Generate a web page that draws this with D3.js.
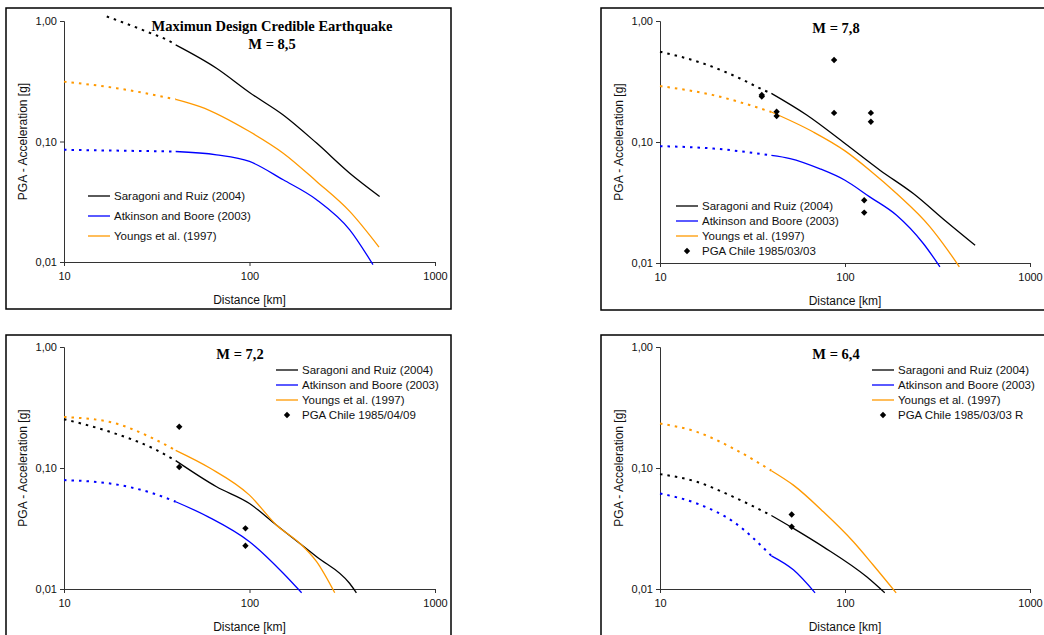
<!DOCTYPE html>
<html>
<head>
<meta charset="utf-8">
<script src="https://cdn.jsdelivr.net/npm/d3@7"></script>
<style>
  body { margin: 0; background: #fff; }
  svg { display: block; }
</style>
</head>
<body>
<div id="chart"></div>
<script>
// ---- data: [distance km, PGA g] ----
// M = 8,5
var sar85 = [[17, 1.09], [27.9, 0.816], [38.8, 0.653], [40, 0.633], [66.4, 0.405], [100, 0.255], [152, 0.166], [230, 0.097], [347, 0.0546], [503, 0.035]];
var atk85 = [[10, 0.0853], [40, 0.0826], [66.4, 0.0776], [100, 0.0683], [152, 0.0481], [230, 0.0329], [347, 0.0185], [463, 0.0095]];
var you85 = [[10, 0.314], [19.2, 0.277], [40, 0.224], [54.1, 0.195], [100, 0.121], [152, 0.080], [230, 0.0466], [347, 0.0263], [499, 0.0133]];

// M = 7,8
var sar78 = [[10, 0.557], [17.1, 0.446], [27.1, 0.335], [37, 0.265], [40, 0.252], [62.1, 0.167], [100, 0.0972], [154.5, 0.0585], [234, 0.0375], [355, 0.0218], [505, 0.014]];
var atk78 = [[10, 0.0924], [19.4, 0.0883], [40, 0.0775], [50.5, 0.073], [73.3, 0.060], [100, 0.0483], [136, 0.0352], [190, 0.0248], [265, 0.0145], [326, 0.0093]];
var you78 = [[10, 0.290], [19.4, 0.244], [40, 0.177], [67.4, 0.121], [100, 0.0845], [136, 0.0585], [190, 0.0375], [288, 0.0199], [355, 0.0131], [415, 0.0093]];
var obs78 = [[35.5, 0.245], [35.5, 0.238], [42.7, 0.178], [42.7, 0.164], [87.3, 0.476], [87.3, 0.174], [138, 0.174], [138, 0.147], [127, 0.033], [127, 0.0261]];

// M = 7,2
var sar72 = [[10, 0.253], [17.7, 0.199], [30.3, 0.145], [40, 0.115], [66.4, 0.070], [100, 0.0509], [140, 0.0337], [230, 0.0185], [347, 0.0111], [377, 0.0093]];
var atk72 = [[10, 0.0794], [17.7, 0.0745], [30.3, 0.0616], [40, 0.0526], [59.9, 0.0395], [100, 0.0246], [152, 0.0135], [191, 0.0093]];
var you72 = [[10, 0.264], [17.7, 0.240], [30.3, 0.175], [40, 0.140], [61.1, 0.100], [100, 0.0597], [140, 0.0337], [187, 0.0238], [230, 0.0168], [288, 0.0093]];
var obs72 = [[41.8, 0.219], [41.8, 0.102], [95.1, 0.0317], [95.1, 0.0228]];

// M = 6,4
var sar64 = [[10, 0.089], [15.8, 0.0769], [24.9, 0.0578], [40, 0.0405], [52.6, 0.0317], [76.4, 0.0223], [131, 0.0126], [164, 0.0093]];
var atk64 = [[10, 0.0616], [15.8, 0.0509], [24.9, 0.036], [40, 0.0188], [52.6, 0.0144], [68.9, 0.0093]];
var you64 = [[10, 0.233], [15.8, 0.199], [24.9, 0.145], [40, 0.095], [52.6, 0.0722], [76.4, 0.0435], [111, 0.0246], [142, 0.0158], [189, 0.0093]];
var obs64 = [[51.5, 0.0413], [51.5, 0.0327]];

var seriesNames = ["Saragoni and Ruiz (2004)", "Atkinson and Boore (2003)", "Youngs et al. (1997)"];
var seriesColors = ["#000000", "#0000ff", "#ff9900"];
var xTicks = [10, 100, 1000];
var yTicks = [1, 0.1, 0.01];
var yTickLabels = ["1,00", "0,10", "0,01"];
var dottedUntil = 40;  // curves drawn dotted below this distance

var panels = [
  { title: ["Maximun Design Credible Earthquake", "M = 8,5"], curves: [sar85, atk85, you85], obs: null, obsName: null,
    frame: [6, 8, 445, 301], x0: 64, x1: 435, yTop: 21, yBot: 262, titleX: 272, titleY: 31,
    leg: { x: 88, y: 196, dy: 20 } },
  { title: ["M = 7,8"], curves: [sar78, atk78, you78], obs: obs78, obsName: "PGA Chile 1985/03/03",
    frame: [601, 8, 500, 302], x0: 660, x1: 1030, yTop: 21, yBot: 263, titleX: 836, titleY: 33,
    leg: { x: 676, y: 206, dy: 15 } },
  { title: ["M = 7,2"], curves: [sar72, atk72, you72], obs: obs72, obsName: "PGA Chile 1985/04/09",
    frame: [6, 335, 445, 400], x0: 64, x1: 435, yTop: 347, yBot: 589, titleX: 240, titleY: 359,
    leg: { x: 276, y: 370, dy: 15 } },
  { title: ["M = 6,4"], curves: [sar64, atk64, you64], obs: obs64, obsName: "PGA Chile 1985/03/03 R",
    frame: [601, 335, 500, 400], x0: 660, x1: 1030, yTop: 347, yBot: 589, titleX: 836, titleY: 359,
    leg: { x: 872, y: 370, dy: 15 } }
];

var svg = d3.select("#chart").append("svg")
  .attr("width", 1044)
  .attr("height", 635)
  .style("font-family", "'Liberation Sans', Arial, sans-serif");

var diamond = d3.symbol().type(d3.symbolDiamond2).size(26);

panels.forEach(function(p) {
  var g = svg.append("g");

  g.append("rect")
    .attr("x", p.frame[0]).attr("y", p.frame[1])
    .attr("width", p.frame[2]).attr("height", p.frame[3])
    .attr("fill", "none").attr("stroke", "#000").attr("stroke-width", 1.5);

  var x = d3.scaleLog().domain([10, 1000]).range([p.x0, p.x1]);
  var y = d3.scaleLog().domain([0.01, 1]).range([p.yBot, p.yTop]);

  // axes
  var xAxis = g.append("g")
    .attr("transform", "translate(0," + p.yBot + ")")
    .call(d3.axisBottom(x).tickValues(xTicks).tickFormat(d3.format("d")).tickSizeOuter(0).tickSize(4).tickPadding(6));
  var yAxis = g.append("g")
    .attr("transform", "translate(" + p.x0 + ",0)")
    .call(d3.axisLeft(y).tickValues(yTicks).tickFormat(function(d, i) { return yTickLabels[i]; }).tickSizeOuter(0).tickSize(4).tickPadding(3));
  [xAxis, yAxis].forEach(function(a) {
    a.select(".domain").attr("stroke", "#333");
    a.selectAll(".tick line").attr("stroke", "#333");
    a.selectAll("text").attr("font-family", "'Liberation Sans', Arial, sans-serif").attr("font-size", 11).attr("fill", "#111");
  });

  g.append("text")
    .attr("x", (p.x0 + p.x1) / 2).attr("y", p.yBot + 42)
    .attr("text-anchor", "middle").attr("font-size", 12).attr("fill", "#111")
    .text("Distance [km]");
  g.append("text")
    .attr("transform", "translate(" + (p.x0 - 37) + "," + ((p.yTop + p.yBot) / 2) + ")rotate(-90)")
    .attr("text-anchor", "middle").attr("font-size", 12).attr("fill", "#111")
    .text("PGA - Acceleration [g]");

  // title
  p.title.forEach(function(t, i) {
    g.append("text")
      .attr("x", p.titleX).attr("y", p.titleY + i * 18)
      .attr("text-anchor", "middle")
      .attr("font-family", "'Liberation Serif', 'Times New Roman', serif")
      .attr("font-weight", "bold").attr("font-size", 14.5)
      .text(t);
  });

  var line = d3.line()
    .curve(d3.curveMonotoneX)
    .x(function(d) { return x(d[0]); })
    .y(function(d) { return y(d[1]); });

  p.curves.forEach(function(c, i) {
    var near = c.filter(function(d) { return d[0] <= dottedUntil; });
    var far = c.filter(function(d) { return d[0] >= dottedUntil; });
    g.append("path").datum(near)
      .attr("d", line).attr("fill", "none")
      .attr("stroke", seriesColors[i]).attr("stroke-width", 2)
      .attr("stroke-dasharray", "2.5,5");
    g.append("path").datum(far)
      .attr("d", line).attr("fill", "none")
      .attr("stroke", seriesColors[i]).attr("stroke-width", 1.3);
  });

  if (p.obs) {
    g.selectAll(".obs").data(p.obs).enter().append("path")
      .attr("d", diamond)
      .attr("transform", function(d) { return "translate(" + x(d[0]) + "," + y(d[1]) + ")"; })
      .attr("fill", "#000");
  }

  // legend
  var names = seriesNames.slice();
  if (p.obsName) names.push(p.obsName);
  names.forEach(function(n, i) {
    var ly = p.leg.y + i * p.leg.dy;
    if (i < 3) {
      g.append("line")
        .attr("x1", p.leg.x).attr("x2", p.leg.x + 22)
        .attr("y1", ly).attr("y2", ly)
        .attr("stroke", seriesColors[i]).attr("stroke-width", 1.3);
    } else {
      g.append("path").attr("d", diamond)
        .attr("transform", "translate(" + (p.leg.x + 11) + "," + ly + ")")
        .attr("fill", "#000");
    }
    g.append("text")
      .attr("x", p.leg.x + 26).attr("y", ly).attr("dy", "0.35em")
      .attr("font-size", 11.5).attr("fill", "#111")
      .text(n);
  });
});
</script>
</body>
</html>
